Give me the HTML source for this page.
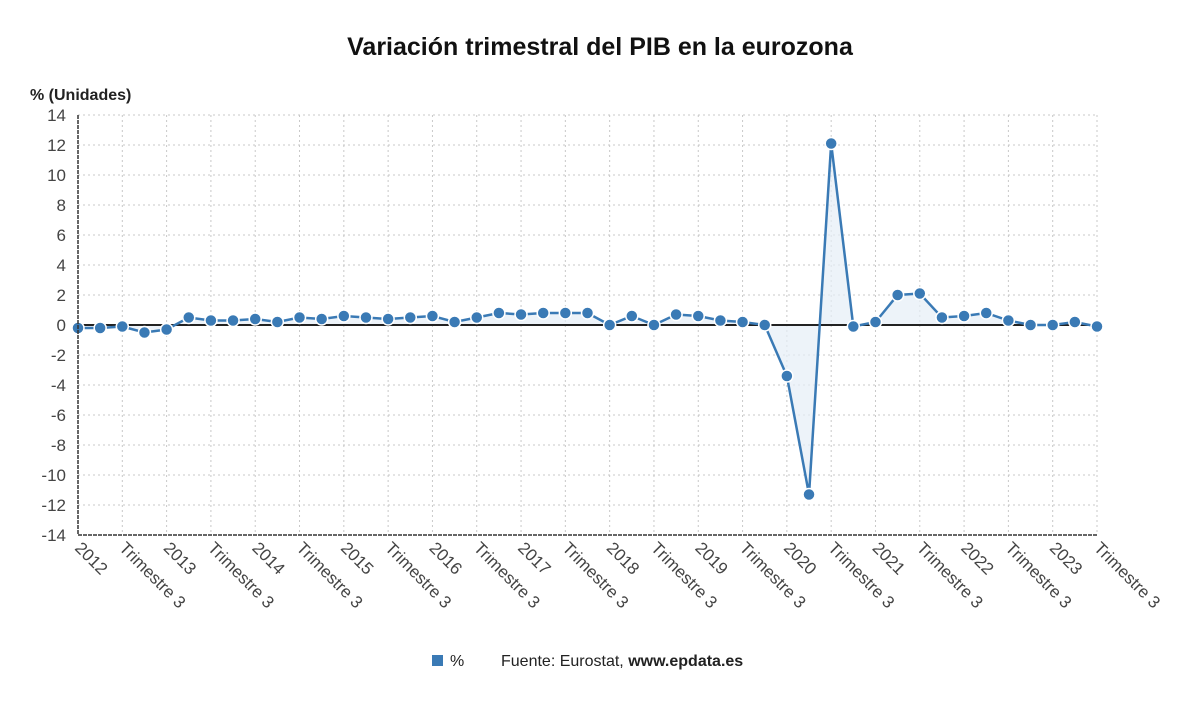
<!DOCTYPE html>
<html><head><meta charset="utf-8"><style>
body{margin:0;background:#fff;font-family:"Liberation Sans",sans-serif;}
</style></head><body>
<svg width="1200" height="705" viewBox="0 0 1200 705" xmlns="http://www.w3.org/2000/svg">
<text x="600" y="55" text-anchor="middle" font-size="25" font-weight="bold" fill="#111">Variación trimestral del PIB en la eurozona</text>
<text x="30" y="100" font-size="16" font-weight="bold" fill="#222">% (Unidades)</text>
<g id="grid"></g><g id="area"></g><g id="marks"></g><g id="axes"></g>
<g>
<rect x="432" y="655" width="11" height="11" fill="#3a7ab5"/>
<text x="450" y="666" font-size="16" fill="#222">%</text>
<text x="501" y="666" font-size="16" fill="#222">Fuente: Eurostat, <tspan font-weight="bold">www.epdata.es</tspan></text>
</g>
</svg>
<script>
const values=[-0.2,-0.2,-0.1,-0.5,-0.3,0.5,0.3,0.3,0.4,0.2,0.5,0.4,0.6,0.5,0.4,0.5,0.6,0.2,0.5,0.8,0.7,0.8,0.8,0.8,0.0,0.6,0.0,0.7,0.6,0.3,0.2,0.0,-3.4,-11.3,12.1,-0.1,0.2,2.0,2.1,0.5,0.6,0.8,0.3,0.0,0.0,0.2,-0.1];
const years=[2012,2013,2014,2015,2016,2017,2018,2019,2020,2021,2022,2023];
const yTicks=[14,12,10,8,6,4,2,0,-2,-4,-6,-8,-10,-12,-14];
const NS="http://www.w3.org/2000/svg";
const L=78,R=1097,T=115,B=535;
const xs=i=>L+i*(R-L)/(values.length-1);
const ys=v=>T+(14-v)*(B-T)/28;
function mk(p,t,a){const e=document.createElementNS(NS,t);for(const k in a)e.setAttribute(k,a[k]);document.getElementById(p).appendChild(e);return e;}
yTicks.forEach(v=>{
 const g=mk('grid','line',{x1:L,x2:R,y1:ys(v),y2:ys(v),stroke:'#c8c8c8','stroke-dasharray':'2,3'});
 
 
 const t=mk('axes','text',{x:L-12,y:ys(v)+6,'text-anchor':'end','font-size':17,fill:'#444'});
 t.textContent=v;
 
 
});
for(let i=0;i<values.length;i+=2){
 const x=xs(i);
 const g=mk('grid','line',{x1:x,x2:x,y1:T,y2:B,stroke:'#c8c8c8','stroke-dasharray':'2,3'});
 
 
 const lab=(i%4===0)?String(years[i/4]):'Trimestre 3';
 const t=mk('axes','text',{x:x-4,y:B+14,'font-size':17,fill:'#444',transform:`rotate(45 ${x-4} ${B+14})`});
 t.textContent=lab;
 
 
}
let d=`M${xs(0)},${ys(0)}`;values.forEach((v,i)=>d+=` L${xs(i)},${ys(v)}`);d+=` L${xs(values.length-1)},${ys(0)} Z`;
const a=mk('area','path',{d:d,fill:'#e6eef7','fill-opacity':0.7});


const z=mk('area','line',{x1:L,x2:R,y1:ys(0),y2:ys(0),stroke:'#222','stroke-width':2});


const ax=mk('axes','path',{d:`M${L},${T} L${L},${B} L${R},${B}`,fill:'none',stroke:'#333','stroke-width':1.5,'stroke-dasharray':'4,1'});


const ln=mk('marks','polyline',{points:values.map((v,i)=>xs(i)+','+ys(v)).join(' '),fill:'none',stroke:'#3a7ab5','stroke-width':2.5});


values.forEach((v,i)=>{
 const c=mk('marks','circle',{cx:xs(i),cy:ys(v),r:6,fill:'#3a7ab5',stroke:'#fff','stroke-width':1.5});
 
 
});
</script>
</body></html>
